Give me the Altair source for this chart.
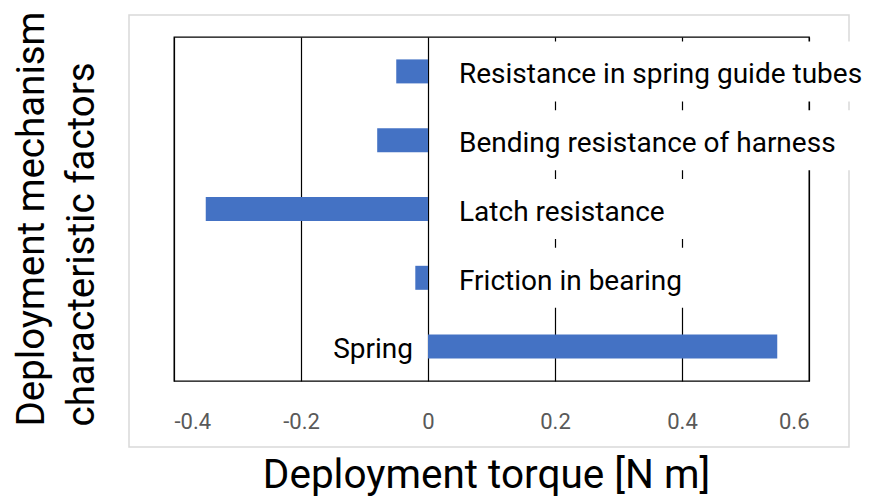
import altair as alt
import pandas as pd

# ---- data ----
factors = [
    "Resistance in spring guide tubes",
    "Bending resistance of harness",
    "Latch resistance",
    "Friction in bearing",
    "Spring",
]
torque = [-0.05, -0.08, -0.35, -0.02, 0.55]
x_ticks = [-0.4, -0.2, 0, 0.2, 0.4, 0.6]
x_title = "Deployment torque [N m]"
y_title = ["Deployment mechanism", "characteristic factors"]

# ---- layout / style ----
W, H = 635, 344
X_MIN, X_MAX = -0.4, 0.6
FONT = "Roboto"
LABEL_SIZE = 28
BAR_COLOR = "#4472C4"

# approximate Roboto advance widths (em) to size the white label boxes
ROBOTO = {
    " ": 0.248, "a": 0.544, "b": 0.561, "c": 0.523, "d": 0.563, "e": 0.529,
    "f": 0.347, "g": 0.561, "h": 0.551, "i": 0.243, "l": 0.243, "m": 0.876,
    "n": 0.552, "o": 0.570, "p": 0.561, "r": 0.338, "s": 0.516, "t": 0.327,
    "u": 0.551, "y": 0.473, "B": 0.622, "F": 0.553, "L": 0.538, "R": 0.629,
    "S": 0.593,
}


def text_px(s):
    return sum(ROBOTO.get(c, 0.55) for c in s) * LABEL_SIZE


unit = (X_MAX - X_MIN) / W  # data units per pixel
GAP_NEG = 31   # px from zero line to start of label (negative bars)
GAP_POS = 15   # px from zero line to end of label (positive bars)

rows = []
for f, v in zip(factors, torque):
    w = text_px(f)
    if v < 0:
        bx, bx2 = (GAP_NEG - 8) * unit, (GAP_NEG + w + 20) * unit
        tx = GAP_NEG * unit
    else:
        bx, bx2 = (-GAP_POS - w - 20) * unit, (-GAP_POS + 8) * unit
        tx = -GAP_POS * unit
    rows.append(dict(factor=f, torque=v, box_x=bx, box_x2=bx2, text_x=tx))
df = pd.DataFrame(rows)

x_scale = alt.Scale(domain=[X_MIN, X_MAX], nice=False, zero=False)
y_scale = alt.Scale(domain=factors, paddingInner=0.128, paddingOuter=0.064)

x_axis = alt.Axis(
    values=x_ticks,
    labelExpr="toString(datum.value)",
    grid=True,
    gridColor="black",
    gridWidth=1.2,
    ticks=False,
    tickSize=0,
    domain=False,
    labelFont=FONT,
    labelFontSize=22,
    labelColor="#595959",
    labelPadding=47,
    labelBaseline="alphabetic",
    title=x_title,
    titleFont=FONT,
    titleFontSize=40.5,
    titleFontWeight="normal",
    titleColor="black",
    titleX=312,
    titleY=106,
    titleAlign="center",
    titleBaseline="alphabetic",
)
y_axis = alt.Axis(
    labels=False,
    ticks=False,
    domain=False,
    grid=False,
    title=y_title,
    titleFont=FONT,
    titleFontSize=38.5,
    titleFontWeight="normal",
    titleColor="black",
    titleAngle=270,
    titleAlign="left",
    titleBaseline="alphabetic",
    titleLineHeight=50,
    titleX=-131,
    titleY=389,
)

base = alt.Chart(df)

frame = alt.Chart(pd.DataFrame({"k": [0]})).mark_rect(
    filled=False, stroke="#d9d9d9", strokeWidth=1.5
).encode(
    x=alt.value(-45), x2=alt.value(675), y=alt.value(-22), y2=alt.value(410)
)

bars = base.mark_bar(size=24, color=BAR_COLOR).encode(
    x=alt.X("torque:Q", scale=x_scale, axis=x_axis),
    x2=alt.datum(0),
    y=alt.Y("factor:N", scale=y_scale, axis=y_axis, sort=factors),
)

boxes = base.mark_rect(fill="white", stroke=None).encode(
    x=alt.X("box_x:Q", scale=x_scale),
    x2="box_x2:Q",
    y=alt.Y("factor:N", scale=y_scale, sort=factors),
)

text_neg = base.transform_filter("datum.torque < 0").mark_text(
    align="left", baseline="alphabetic", dy=12, font=FONT,
    fontSize=LABEL_SIZE, color="black"
).encode(
    x=alt.X("text_x:Q", scale=x_scale),
    y=alt.Y("factor:N", scale=y_scale, sort=factors),
    text="factor:N",
)
text_pos = base.transform_filter("datum.torque >= 0").mark_text(
    align="right", baseline="alphabetic", dy=11, font=FONT,
    fontSize=LABEL_SIZE, color="black"
).encode(
    x=alt.X("text_x:Q", scale=x_scale),
    y=alt.Y("factor:N", scale=y_scale, sort=factors),
    text="factor:N",
)

chart = alt.layer(frame, bars, boxes, text_neg, text_pos).properties(
    width=W,
    height=H,
    autosize=alt.AutoSizeParams(type="none"),
    padding={"left": 166, "top": 29, "right": 56, "bottom": 115},
    background="white",
).configure_view(
    stroke="black", strokeWidth=1.3
)

chart.save("out.html", embed_options={"renderer": "svg", "actions": False})
